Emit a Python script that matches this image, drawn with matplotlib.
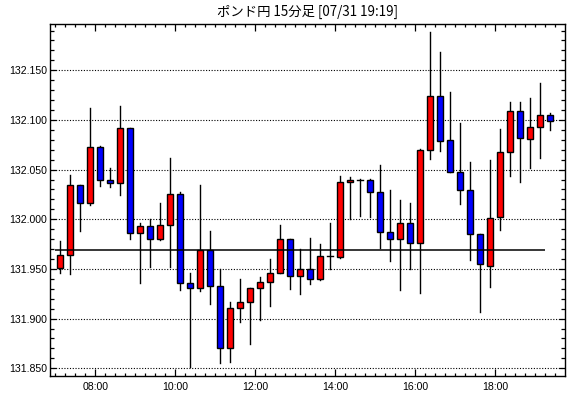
import numpy as np
import matplotlib.pyplot as plt
from matplotlib.patches import Rectangle
from matplotlib.ticker import MultipleLocator, FuncFormatter

title = "ポンド円 15分足 [07/31 19:19]"
start_time = "07:00"
interval_min = 15

opens = [131.951, 131.964, 132.035, 132.016, 132.073, 132.040, 132.037, 132.092, 131.986, 131.993,
         131.980, 131.994, 132.025, 131.936, 131.931, 131.969, 131.933, 131.870, 131.911, 131.917,
         131.931, 131.937, 131.946, 131.980, 131.943, 131.950, 131.940, 131.963, 131.962, 132.038,
         132.040, 132.040, 132.027, 131.987, 131.980, 131.996, 131.976, 132.070, 132.124, 132.080,
         132.048, 132.029, 131.985, 131.953, 132.002, 132.068, 132.109, 132.081, 132.093, 132.105]
highs = [131.978, 132.045, 132.035, 132.112, 132.074, 132.052, 132.114, 132.092, 131.996, 132.000,
         132.016, 132.062, 132.027, 131.946, 132.035, 131.988, 131.950, 131.917, 131.940, 131.931,
         131.942, 131.960, 131.994, 131.980, 131.970, 131.981, 131.975, 131.996, 132.044, 132.043,
         132.041, 132.041, 132.055, 132.029, 132.019, 132.016, 132.071, 132.189, 132.168, 132.128,
         132.097, 132.058, 131.985, 132.060, 132.091, 132.118, 132.118, 132.122, 132.137, 132.107]
lows = [131.946, 131.945, 131.988, 132.014, 132.033, 132.032, 132.024, 131.980, 131.936, 131.952,
        131.979, 131.952, 131.929, 131.851, 131.928, 131.915, 131.855, 131.856, 131.897, 131.874,
        131.899, 131.913, 131.946, 131.930, 131.925, 131.935, 131.939, 131.950, 131.961, 132.000,
        132.003, 132.002, 131.971, 131.958, 131.929, 131.950, 131.926, 132.061, 132.069, 132.048,
        132.015, 131.959, 131.907, 131.932, 131.989, 132.044, 132.038, 132.052, 132.062, 132.090]
closes = [131.964, 132.035, 132.016, 132.073, 132.040, 132.037, 132.092, 131.986, 131.993, 131.980,
          131.994, 132.025, 131.936, 131.931, 131.969, 131.933, 131.870, 131.911, 131.917, 131.931,
          131.937, 131.946, 131.980, 131.943, 131.950, 131.940, 131.963, 131.963, 132.038, 132.040,
          132.040, 132.027, 131.987, 131.980, 131.996, 131.976, 132.070, 132.124, 132.079, 132.048,
          132.029, 131.985, 131.955, 132.001, 132.068, 132.109, 132.082, 132.093, 132.105, 132.099]
ref_level = 131.969
ref_from = "07:00"
ref_to = "19:14"
y_ticks = [131.850, 131.900, 131.950, 132.000, 132.050, 132.100, 132.150]
x_ticks = ["08:00", "10:00", "12:00", "14:00", "16:00", "18:00"]


def to_hours(s):
    h, m = s.split(":")
    return int(h) + int(m) / 60.0


plt.rcParams['font.family'] = ['Liberation Sans', 'DejaVu Sans']

fig = plt.figure(figsize=(5.70, 3.98), dpi=100)
ax = fig.add_axes([50 / 570, 22.3 / 398, 515 / 570, 351.7 / 398])

step = interval_min / 60.0
t0 = to_hours(start_time)
w = 0.15
for i in range(len(opens)):
    x = t0 + step * i + step / 2
    o, h, l, c = opens[i], highs[i], lows[i], closes[i]
    ax.plot([x, x], [l, h], color='black', lw=1.0, zorder=2)
    col = '#ff0000' if c >= o else '#0000ff'
    lo = min(o, c)
    hgt = abs(c - o)
    if hgt < 0.0005:
        ax.plot([x - w / 2, x + w / 2], [o, o], color='black', lw=1.0, zorder=3)
    else:
        ax.add_patch(Rectangle((x - w / 2, lo), w, hgt, facecolor=col,
                               edgecolor='black', lw=1.0, zorder=3))

ax.hlines(ref_level, to_hours(ref_from), to_hours(ref_to), color='black', lw=1.1, zorder=4)

ax.set_xlim(6.8675, 19.74)
ax.set_ylim(131.8425, 132.1966)

ax.set_yticks(y_ticks)
ax.yaxis.set_major_formatter(FuncFormatter(lambda v, p: "%.3f" % v))
ax.yaxis.set_minor_locator(MultipleLocator(0.01))
ax.set_xticks([to_hours(s) for s in x_ticks])
ax.set_xticklabels(x_ticks)
ax.xaxis.set_minor_locator(MultipleLocator(step))

ax.grid(axis='y', which='major', color='black', linestyle=(0, (1, 1.5)), lw=0.8)
ax.set_axisbelow(True)

ax.tick_params(axis='both', which='both', direction='in', top=True, right=True,
               labelsize=7.6, width=0.9, colors='black')
ax.tick_params(axis='x', which='major', length=5, pad=4.5)
ax.tick_params(axis='x', which='minor', length=2.5)
ax.tick_params(axis='y', which='major', length=4, pad=2)
ax.tick_params(axis='y', which='minor', length=3)
for sp in ax.spines.values():
    sp.set_linewidth(1.0)

fig.text((50 + 565) / 2 / 570, 1 - 12 / 398, title, ha='center', va='center',
         fontsize=9.6, family=['Noto Sans CJK JP', 'DejaVu Sans'])

fig.savefig('out.png', dpi=100)
